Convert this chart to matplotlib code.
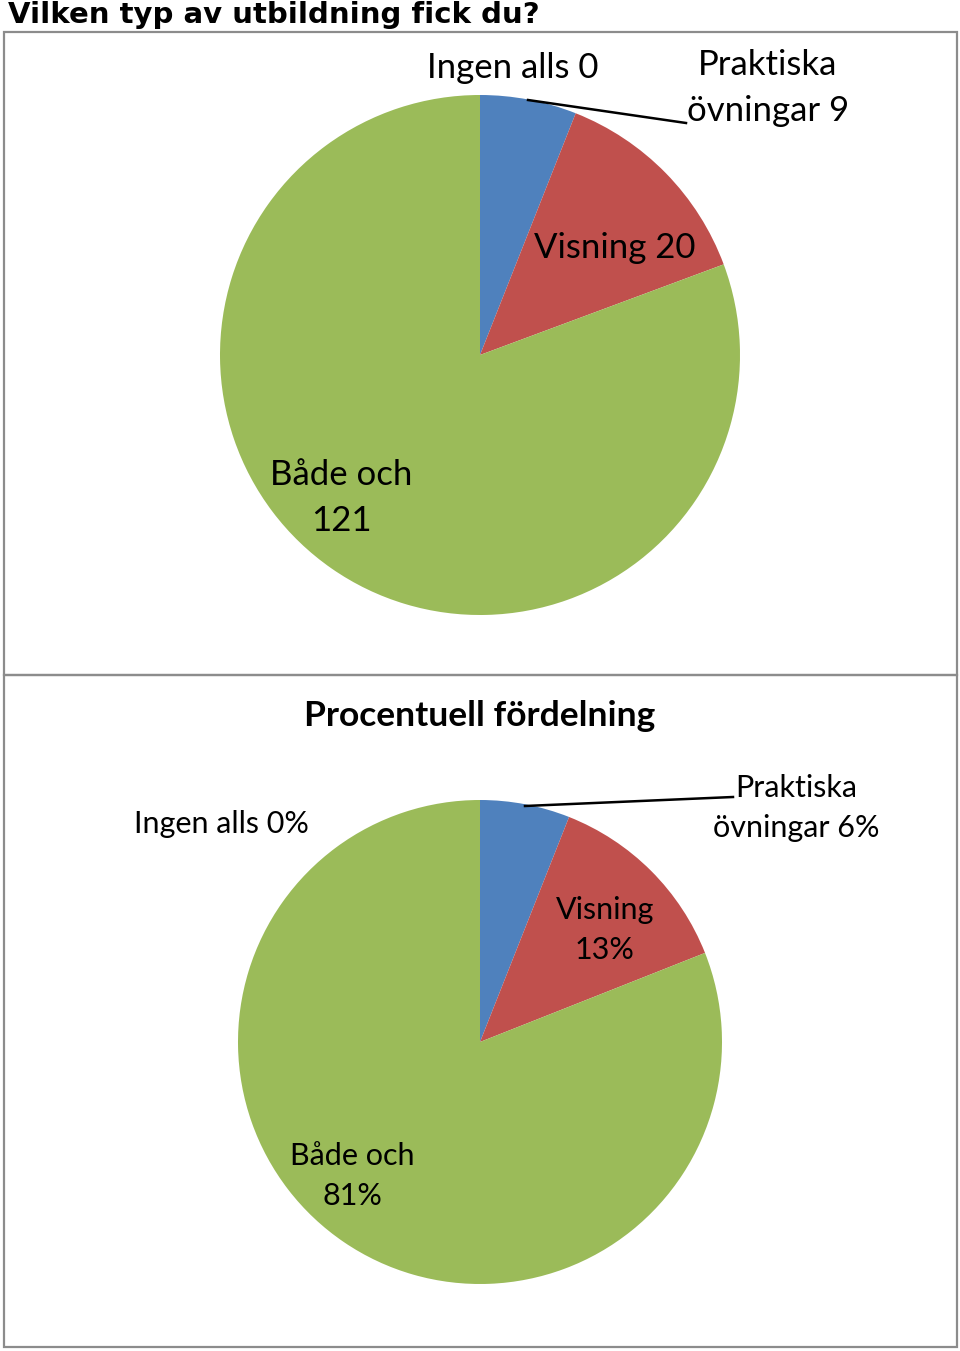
import numpy as np
import matplotlib.pyplot as plt
from matplotlib.patches import Rectangle

# data
categories = ['Praktiska övningar', 'Visning', 'Både och', 'Ingen alls']
counts = [9, 20, 121, 0]
percents = [6, 13, 81, 0]
colors = ['#4F81BD', '#C0504D', '#9BBB59', '#8064A2']

W, H = 960, 1351
fig = plt.figure(figsize=(W / 100, H / 100), dpi=100)

LABEL_FONT = 'Lato'


def panel_axes(x0, y0, x1, y1, cx, cy, r):
    # axes covering a panel, in pixel coords; data units = pie radius
    ax = fig.add_axes([x0 / W, 1 - y1 / H, (x1 - x0) / W, (y1 - y0) / H])

    def p(px, py):
        return (px - cx) / r, (cy - py) / r

    def limits():
        ax.set_xlim((x0 - cx) / r, (x1 - cx) / r)
        ax.set_ylim((cy - y1) / r, (cy - y0) / r)
        ax.set_aspect('equal')
        ax.axis('off')
    return ax, p, limits


# figure title (cut off at the top edge in the original)
fig.text(8 / W, 1 - 23 / H, 'Vilken typ av utbildning fick du?', fontsize=21,
         fontweight='bold', family='DejaVu Sans', ha='left', va='baseline')

# panel borders
for (y0, y1) in [(32, 675), (675, 1347)]:
    fig.patches.append(Rectangle((4 / W, 1 - y1 / H), 953 / W, (y1 - y0) / H,
                                 transform=fig.transFigure, fill=False,
                                 edgecolor='#8c8c8c', linewidth=1.6))

# top pie: counts
ax1, p1, lim1 = panel_axes(5, 33, 956, 674, 480, 355, 260)
ax1.pie(counts, colors=colors, startangle=90, counterclock=False,
        radius=1, center=(0, 0))
lim1()
fs1 = 25
ax1.text(*p1(513, 68), f'{categories[3]} {counts[3]}', fontsize=fs1,
         family=LABEL_FONT, ha='center', va='center')
ax1.text(*p1(768, 88), 'Praktiska\növningar %d' % counts[0], fontsize=fs1,
         family=LABEL_FONT, ha='center', va='center', linespacing=1.55)
ax1.text(*p1(615, 248), f'{categories[1]} {counts[1]}', fontsize=fs1,
         family=LABEL_FONT, ha='center', va='center')
ax1.text(*p1(341, 498), 'Både och\n%d' % counts[2], fontsize=fs1,
         family=LABEL_FONT, ha='center', va='center', linespacing=1.55)
ax1.plot(*zip(p1(528, 100), p1(686, 123)), color='black', lw=1.8)

# bottom pie: percentages
ax2, p2, lim2 = panel_axes(5, 676, 956, 1346, 480, 1042, 242)
ax2.pie(percents, colors=colors, startangle=90, counterclock=False,
        radius=1, center=(0, 0))
lim2()
ax2.text(*p2(480, 716), 'Procentuell fördelning', fontsize=25.5,
         fontweight='bold', family=LABEL_FONT, ha='center', va='center')
fs2 = 22
ax2.text(*p2(221, 824), f'{categories[3]} {percents[3]}%', fontsize=fs2,
         family=LABEL_FONT, ha='center', va='center')
ax2.text(*p2(796, 808), 'Praktiska\növningar %d%%' % percents[0], fontsize=fs2,
         family=LABEL_FONT, ha='center', va='center', linespacing=1.5)
ax2.text(*p2(605, 930), 'Visning\n%d%%' % percents[1], fontsize=fs2,
         family=LABEL_FONT, ha='center', va='center', linespacing=1.5)
ax2.text(*p2(352, 1176), 'Både och\n%d%%' % percents[2], fontsize=fs2,
         family=LABEL_FONT, ha='center', va='center', linespacing=1.5)
ax2.plot(*zip(p2(525, 806), p2(733, 797)), color='black', lw=1.8)

fig.savefig('out.png', dpi=100, facecolor='white')
